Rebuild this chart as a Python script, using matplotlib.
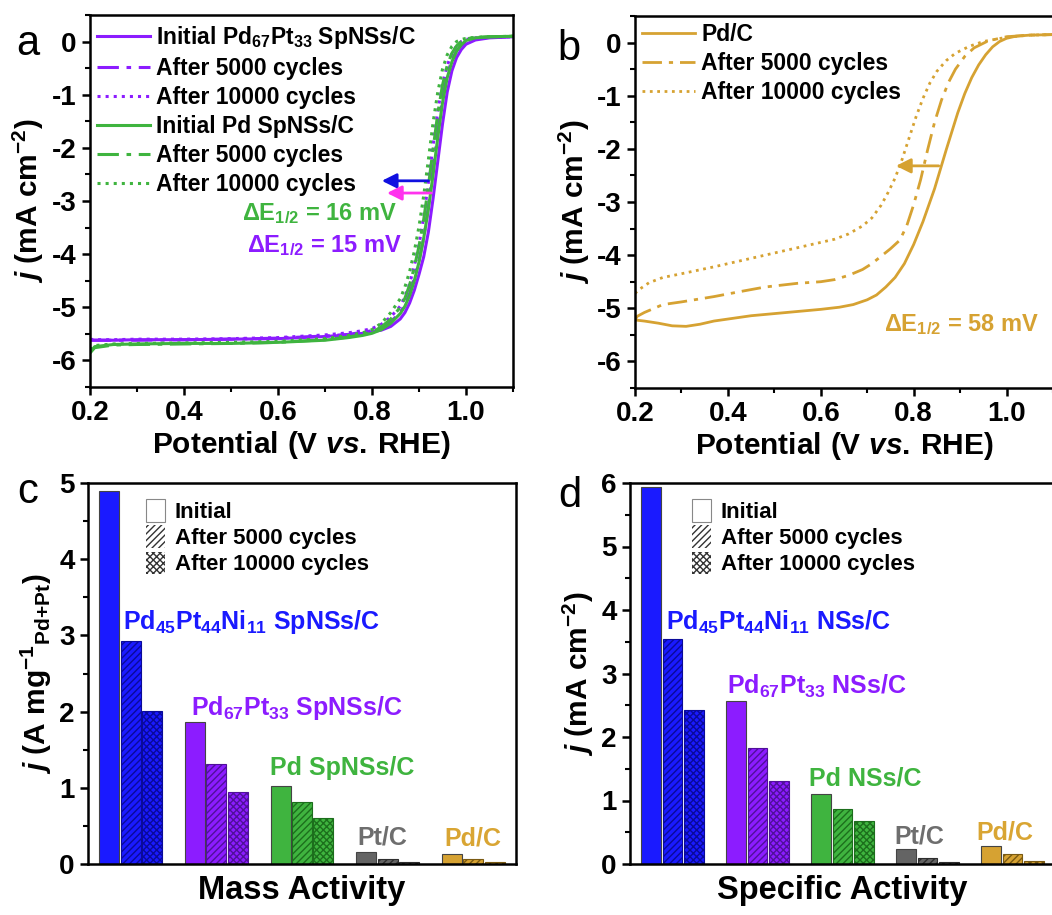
import numpy as np
import matplotlib
matplotlib.use('Agg')
import matplotlib.pyplot as plt
from matplotlib.ticker import MultipleLocator
from matplotlib.patches import Patch

plt.rcParams['font.family'] = ['Liberation Sans', 'DejaVu Sans']
plt.rcParams['font.weight'] = 'bold'
plt.rcParams['axes.labelweight'] = 'bold'
plt.rcParams['mathtext.fontset'] = 'custom'
plt.rcParams['mathtext.rm'] = 'Liberation Sans:bold'
plt.rcParams['mathtext.bf'] = 'Liberation Sans:bold'
plt.rcParams['mathtext.it'] = 'Liberation Sans:bold:italic'
plt.rcParams['mathtext.default'] = 'rm'
plt.rcParams['axes.linewidth'] = 1.8
plt.rcParams['hatch.linewidth'] = 1.0
for ax_ in ('xtick', 'ytick'):
    plt.rcParams[ax_ + '.direction'] = 'out'
    plt.rcParams[ax_ + '.major.size'] = 6
    plt.rcParams[ax_ + '.major.width'] = 1.8
    plt.rcParams[ax_ + '.minor.size'] = 3.5
    plt.rcParams[ax_ + '.minor.width'] = 1.5
    plt.rcParams[ax_ + '.labelsize'] = 20

# ---- panel a : LSV curves (V vs RHE, mA cm-2) ----
E_a = [0.20, 0.21, 0.25, 0.30, 0.40, 0.50, 0.60, 0.70, 0.75, 0.78, 0.80, 0.82,
       0.84, 0.86, 0.87, 0.88, 0.89, 0.90, 0.91, 0.92, 0.93, 0.94, 0.95, 0.96,
       0.97, 0.98, 0.99, 1.00, 1.02, 1.05, 1.10]
pdpt_init = [-5.62, -5.62, -5.62, -5.61, -5.61, -5.60, -5.59, -5.55, -5.52, -5.49, -5.46, -5.43,
             -5.36, -5.22, -5.10, -4.92, -4.68, -4.38, -4.05, -3.58, -2.95, -2.25, -1.55, -0.95,
             -0.55, -0.30, -0.15, -0.05, 0.03, 0.07, 0.09]
pdpt_5k = [-5.61, -5.62, -5.62, -5.62, -5.61, -5.60, -5.58, -5.54, -5.51, -5.47, -5.44, -5.38,
           -5.27, -5.10, -4.95, -4.74, -4.45, -4.12, -3.70, -3.10, -2.40, -1.70, -1.07, -0.62,
           -0.35, -0.17, -0.07, 0.00, 0.05, 0.08, 0.09]
pdpt_10k = [-5.60, -5.61, -5.61, -5.60, -5.60, -5.59, -5.57, -5.52, -5.48, -5.44, -5.40, -5.32,
            -5.18, -4.98, -4.80, -4.56, -4.22, -3.82, -3.30, -2.65, -1.95, -1.30, -0.80, -0.45,
            -0.22, -0.08, 0.00, 0.04, 0.07, 0.08, 0.09]
pd_init = [-5.85, -5.74, -5.70, -5.69, -5.68, -5.68, -5.66, -5.62, -5.57, -5.53, -5.49, -5.42,
           -5.30, -5.12, -4.98, -4.78, -4.50, -4.15, -3.70, -3.15, -2.50, -1.80, -1.15, -0.68,
           -0.38, -0.18, -0.06, 0.02, 0.07, 0.09, 0.10]
pd_5k = [-5.86, -5.76, -5.71, -5.70, -5.69, -5.68, -5.66, -5.61, -5.56, -5.51, -5.47, -5.37,
         -5.22, -5.00, -4.83, -4.58, -4.25, -3.85, -3.35, -2.72, -2.02, -1.35, -0.82, -0.45,
         -0.22, -0.08, 0.00, 0.05, 0.08, 0.09, 0.10]
pd_10k = [-5.80, -5.72, -5.69, -5.68, -5.67, -5.66, -5.64, -5.59, -5.53, -5.48, -5.42, -5.30,
          -5.10, -4.84, -4.62, -4.33, -3.95, -3.48, -2.90, -2.22, -1.52, -0.95, -0.52, -0.25,
          -0.09, 0.00, 0.04, 0.06, 0.08, 0.09, 0.10]

# ---- panel b : Pd/C ----
E_b0 = [0.20, 0.22, 0.25, 0.28, 0.31, 0.34, 0.37, 0.41, 0.45, 0.50, 0.55, 0.60,
        0.64, 0.67, 0.70, 0.72, 0.74, 0.76, 0.78, 0.80, 0.82, 0.845, 0.87, 0.895,
        0.91, 0.925, 0.94, 0.955, 0.97, 0.985, 1.00, 1.02, 1.05, 1.10]
pdc_init = [-5.22, -5.24, -5.28, -5.33, -5.34, -5.30, -5.24, -5.19, -5.14, -5.10, -5.06, -5.02,
            -4.98, -4.93, -4.84, -4.75, -4.60, -4.42, -4.16, -3.80, -3.37, -2.75, -2.02, -1.32,
            -0.96, -0.66, -0.42, -0.23, -0.08, 0.02, 0.08, 0.12, 0.14, 0.15]
E_b5 = [0.20, 0.205, 0.22, 0.26, 0.30, 0.37, 0.43, 0.48, 0.55, 0.60, 0.63, 0.66,
        0.69, 0.71, 0.73, 0.75, 0.77, 0.785, 0.80, 0.815, 0.83, 0.845, 0.86, 0.875,
        0.89, 0.91, 0.93, 0.96, 1.00, 1.05, 1.10]
pdc_5k = [-5.22, -5.15, -5.08, -4.93, -4.88, -4.78, -4.68, -4.60, -4.53, -4.50, -4.46, -4.38,
          -4.27, -4.16, -4.02, -3.88, -3.72, -3.45, -3.05, -2.58, -2.02, -1.50, -1.08, -0.75,
          -0.50, -0.26, -0.10, 0.03, 0.11, 0.14, 0.15]
E_b10 = [0.20, 0.21, 0.23, 0.26, 0.30, 0.37, 0.43, 0.48, 0.54, 0.59, 0.63, 0.66,
         0.69, 0.71, 0.73, 0.745, 0.76, 0.775, 0.79, 0.805, 0.82, 0.835, 0.85, 0.87,
         0.89, 0.92, 0.95, 1.00, 1.05, 1.10]
pdc_10k = [-4.72, -4.64, -4.52, -4.42, -4.35, -4.22, -4.10, -4.00, -3.88, -3.78, -3.70, -3.60,
           -3.45, -3.30, -3.06, -2.82, -2.55, -2.20, -1.80, -1.40, -1.05, -0.76, -0.54, -0.34,
           -0.20, -0.07, 0.02, 0.10, 0.14, 0.15]

# ---- panels c, d : activities ----
catalysts_c = ['Pd$_{45}$Pt$_{44}$Ni$_{11}$ SpNSs/C', 'Pd$_{67}$Pt$_{33}$ SpNSs/C',
               'Pd SpNSs/C', 'Pt/C', 'Pd/C']
catalysts_d = ['Pd$_{45}$Pt$_{44}$Ni$_{11}$ NSs/C', 'Pd$_{67}$Pt$_{33}$ NSs/C',
               'Pd NSs/C', 'Pt/C', 'Pd/C']
mass_init = [4.90, 1.86, 1.03, 0.16, 0.13]
mass_5k = [2.93, 1.31, 0.81, 0.07, 0.07]
mass_10k = [2.01, 0.94, 0.61, 0.02, 0.02]
spec_init = [5.93, 2.57, 1.11, 0.23, 0.29]
spec_5k = [3.54, 1.82, 0.865, 0.095, 0.15]
spec_10k = [2.43, 1.31, 0.67, 0.03, 0.05]

colors = ['#1a1aff', '#8c1cff', '#3fb43f', '#646464', '#d6a232']
dark = ['#0a0a9a', '#50109a', '#1c6e1c', '#2e2e2e', '#7a5a12']
txt_colors = ['#1a1aff', '#8c1cff', '#3fb43f', '#6e6e6e', '#d9a533']
lab_c = [(0.91, 3.18), (1.70, 2.05), (2.63, 1.26), (3.65, 0.35), (4.66, 0.34)]
lab_d = [(0.92, 3.81), (1.64, 2.79), (2.61, 1.35), (3.61, 0.44), (4.58, 0.49)]

purple = '#8c1cff'
green = '#3fb43f'
gold = '#d6a232'
dashdot = (0, (7, 2.5, 1.5, 2.5))

fig = plt.figure(figsize=(10.52, 9.15), dpi=100)
W, H = 1052.0, 915.0
def box(l, t, r, b):
    return [l / W, 1 - b / H, (r - l) / W, (b - t) / H]

axa = fig.add_axes(box(90, 15, 513, 387))
axb = fig.add_axes(box(635, 16, 1053, 388))
axc = fig.add_axes(box(88, 483, 516, 864))
axd = fig.add_axes(box(630, 483, 1055, 864))

# panel a
axa.plot(E_a, pdpt_init, color=purple, lw=2.2, label='Initial Pd$_{67}$Pt$_{33}$ SpNSs/C')
axa.plot(E_a, pdpt_5k, color=purple, lw=2.2, ls=dashdot, label='After 5000 cycles')
axa.plot(E_a, pdpt_10k, color=purple, lw=2.2, ls=':', label='After 10000 cycles')
axa.plot(E_a, pd_init, color=green, lw=2.2, label='Initial Pd SpNSs/C')
axa.plot(E_a, pd_5k, color=green, lw=2.2, ls=dashdot, label='After 5000 cycles')
axa.plot(E_a, pd_10k, color=green, lw=2.2, ls=':', label='After 10000 cycles')
axa.annotate('', xy=(0.815, -2.62), xytext=(0.926, -2.62),
             arrowprops=dict(arrowstyle='-|>', color='#1010e0', lw=2, mutation_scale=22))
axa.annotate('', xy=(0.826, -2.85), xytext=(0.932, -2.85),
             arrowprops=dict(arrowstyle='-|>', color='#ff33ee', lw=2, mutation_scale=22))
axa.text(0.854, -3.23, '$\\Delta$E$_{1/2}$ = 16 mV', color=green, fontsize=17,
         ha='right', va='center')
axa.text(0.864, -3.83, '$\\Delta$E$_{1/2}$ = 15 mV', color=purple, fontsize=17,
         ha='right', va='center')
axa.legend(loc='upper left', bbox_to_anchor=(0.0, 0.995), frameon=False, fontsize=16.5,
           handlelength=2.3, handletextpad=0.3, labelspacing=0.26, borderaxespad=0.1,
           borderpad=0.2)

# panel b
axb.plot(E_b0, pdc_init, color=gold, lw=2, label='Pd/C')
axb.plot(E_b5, pdc_5k, color=gold, lw=2, ls=dashdot, label='After 5000 cycles')
axb.plot(E_b10, pdc_10k, color=gold, lw=2, ls=':', label='After 10000 cycles')
axb.annotate('', xy=(0.756, -2.32), xytext=(0.86, -2.32),
             arrowprops=dict(arrowstyle='-|>', color=gold, lw=2, mutation_scale=22))
axb.text(1.069, -5.31, '$\\Delta$E$_{1/2}$ = 58 mV', color=gold, fontsize=17,
         ha='right', va='center')
axb.legend(loc='upper left', bbox_to_anchor=(0.0, 1.0), frameon=False, fontsize=16.5,
           handlelength=2.3, handletextpad=0.3, labelspacing=0.27, borderaxespad=0.1,
           borderpad=0.2)

for ax in (axa, axb):
    ax.set_xlim(0.2, 1.1)
    ax.set_ylim(-6.5, 0.5)
    ax.xaxis.set_major_locator(MultipleLocator(0.2))
    ax.xaxis.set_minor_locator(MultipleLocator(0.1))
    ax.yaxis.set_major_locator(MultipleLocator(1))
    ax.yaxis.set_minor_locator(MultipleLocator(0.5))
    ax.xaxis.set_major_formatter(plt.FuncFormatter(lambda v, p: '%.1f' % v))
    ax.yaxis.set_major_formatter(plt.FuncFormatter(lambda v, p: '%d' % round(v)))
    ax.set_xlabel('$\\mathrm{Potential\\ (V\\ }\\mathit{vs.}\\,\\mathrm{RHE)}$', fontsize=21.5,
                  labelpad=2)
    ax.set_ylabel('$\\mathit{j}$ (mA cm$^{-2}$)', fontsize=21.5, labelpad=4)

# panels c, d
x = np.arange(1, 6)
bw = 0.235
off = 0.25
for ax, vals, labels, pos in ((axc, (mass_init, mass_5k, mass_10k), catalysts_c, lab_c),
                              (axd, (spec_init, spec_5k, spec_10k), catalysts_d, lab_d)):
    ax.bar(x - off, vals[0], bw, color=colors, edgecolor='#444444', lw=0.8)
    ax.bar(x, vals[1], bw, color=colors, edgecolor=dark, lw=0.8, hatch='/////')
    ax.bar(x + off, vals[2], bw, color=colors, edgecolor=dark, lw=0.8, hatch='xxxxx')
    for i in range(5):
        ax.text(pos[i][0], pos[i][1], labels[i], color=txt_colors[i], fontsize=18,
                ha='left', va='center')
    ax.set_xlim(0.5, 5.5)
    ax.set_xticks([])
    ax.yaxis.set_major_locator(MultipleLocator(1))
    ax.yaxis.set_minor_locator(MultipleLocator(0.5))
    handles = [Patch(facecolor='white', edgecolor='#888888', lw=0.8),
               Patch(facecolor='white', edgecolor='#333333', lw=0, hatch='/////'),
               Patch(facecolor='white', edgecolor='#333333', lw=0, hatch='xxxxx')]
    ax.legend(handles, ['Initial', 'After 5000 cycles', 'After 10000 cycles'],
              loc='upper left', bbox_to_anchor=(0.135, 0.957), frameon=False, fontsize=16,
              handlelength=0.85, handleheight=1.2, handletextpad=0.45, labelspacing=0.1,
              borderaxespad=0, borderpad=0)

axc.set_ylim(0, 5)
axd.set_ylim(0, 6)
axd.legend_.set_bbox_to_anchor((0.145, 0.957))
axc.set_xlabel('Mass Activity', fontsize=23.5, labelpad=8)
axd.set_xlabel('Specific Activity', fontsize=23.5, labelpad=8)
axc.set_ylabel('$\\mathit{j}$ (A mg$^{-1}$$_{\\mathrm{Pd{+}Pt}}$)', fontsize=21.5, labelpad=4)
axd.set_ylabel('$\\mathit{j}$ (mA cm$^{-2}$)', fontsize=21.5, labelpad=4)

for lab, px, py in (('a', 16, 55), ('b', 557, 60), ('c', 17, 503), ('d', 558, 507)):
    fig.text(px / W, 1 - py / H, lab, fontsize=30, fontweight='normal', va='baseline')

fig.savefig('out.png', dpi=100)
